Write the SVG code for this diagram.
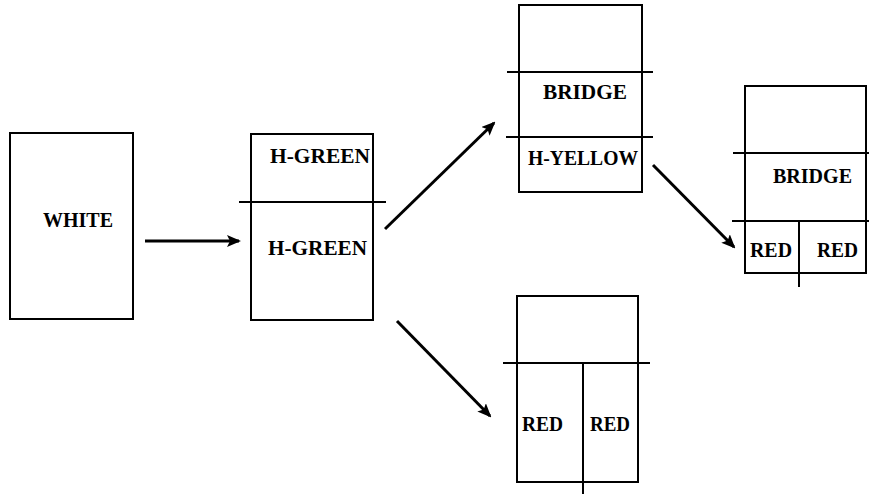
<svg xmlns="http://www.w3.org/2000/svg" width="869" height="494" viewBox="0 0 869 494">
<style>
.box{fill:none;stroke:#000;stroke-width:2}
.ln{stroke:#000;stroke-width:2}
.t{font-family:"Liberation Serif",serif;font-weight:bold;font-size:21px;fill:#000}
.arr{stroke:#000;stroke-width:3;fill:none}
</style>
<defs>
<marker id="ah" markerWidth="14" markerHeight="12" refX="12" refY="6" orient="auto" markerUnits="userSpaceOnUse">
<path d="M0,0 L14,6 L0,12 L3,6 Z" fill="#000"/>
</marker>
</defs>
<rect width="869" height="494" fill="#fff"/>
<g id="white">
<rect class="box" x="10" y="133" width="123" height="186"/>
<text class="t" x="43" y="227" textLength="70" lengthAdjust="spacingAndGlyphs">WHITE</text>
</g>
<g id="hgreen">
<rect class="box" x="251" y="134" width="122" height="186"/>
<line class="ln" x1="239" y1="202" x2="386" y2="202"/>
<text class="t" x="270" y="163" textLength="100" lengthAdjust="spacingAndGlyphs">H-GREEN</text>
<text class="t" x="268" y="255" textLength="99" lengthAdjust="spacingAndGlyphs">H-GREEN</text>
</g>
<g id="bridge-yellow">
<rect class="box" x="519" y="5" width="123" height="187"/>
<line class="ln" x1="507" y1="72" x2="653" y2="72"/>
<line class="ln" x1="506" y1="137" x2="653" y2="137"/>
<text class="t" x="543" y="99" textLength="84" lengthAdjust="spacingAndGlyphs">BRIDGE</text>
<text class="t" x="528" y="165" textLength="110" lengthAdjust="spacingAndGlyphs">H-YELLOW</text>
</g>
<g id="bridge-red">
<rect class="box" x="745" y="86" width="121" height="187"/>
<line class="ln" x1="733" y1="153" x2="869" y2="153"/>
<line class="ln" x1="732" y1="221" x2="869" y2="221"/>
<line class="ln" x1="799" y1="221" x2="799" y2="287"/>
<text class="t" x="773" y="183" textLength="79" lengthAdjust="spacingAndGlyphs">BRIDGE</text>
<text class="t" x="750" y="257" textLength="42" lengthAdjust="spacingAndGlyphs">RED</text>
<text class="t" x="817" y="257" textLength="41" lengthAdjust="spacingAndGlyphs">RED</text>
</g>
<g id="red-red">
<rect class="box" x="517" y="296" width="121" height="186"/>
<line class="ln" x1="503" y1="363" x2="650" y2="363"/>
<line class="ln" x1="583" y1="363" x2="583" y2="494"/>
<text class="t" x="522" y="431" textLength="41" lengthAdjust="spacingAndGlyphs">RED</text>
<text class="t" x="590" y="431" textLength="40" lengthAdjust="spacingAndGlyphs">RED</text>
</g>
<g id="connectors">
<line class="arr" x1="145" y1="241" x2="239" y2="241" marker-end="url(#ah)"/>
<line class="arr" x1="385" y1="229" x2="494" y2="123" marker-end="url(#ah)"/>
<line class="arr" x1="397" y1="321" x2="490" y2="416" marker-end="url(#ah)"/>
<line class="arr" x1="653" y1="165" x2="734" y2="247" marker-end="url(#ah)"/>
</g>
</svg>
